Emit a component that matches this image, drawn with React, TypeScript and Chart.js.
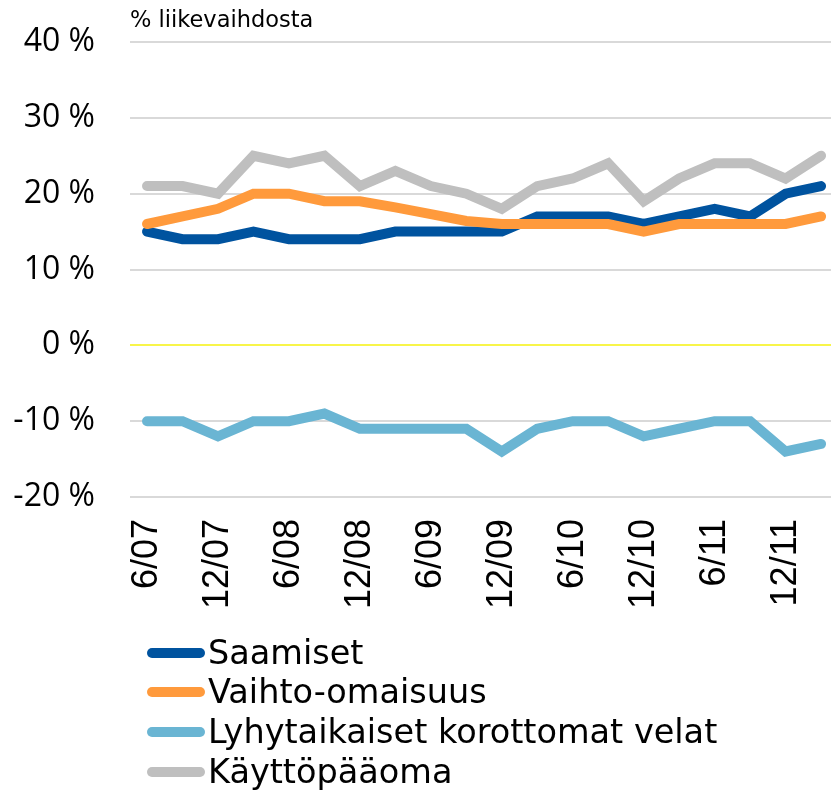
import React, { useEffect, useRef } from "react";
import { Chart, registerables } from "chart.js";

Chart.register(...registerables);

const categories = [
  "6/07", "9/07", "12/07", "3/08", "6/08", "9/08", "12/08", "3/09", "6/09", "9/09",
  "12/09", "3/10", "6/10", "9/10", "12/10", "3/11", "6/11", "9/11", "12/11", "3/12",
];

const saamiset = [15, 14, 14, 15, 14, 14, 14, 15, 15, 15, 15, 17, 17, 17, 16, 17, 18, 17, 20, 21];
const vaihtoOmaisuus = [16, 17, 18, 20, 20, 19, 19, 18.2, 17.3, 16.4, 16, 16, 16, 16, 15, 16, 16, 16, 16, 17];
const lyhytaikaiset = [-10, -10, -12, -10, -10, -9, -11, -11, -11, -11, -14, -11, -10, -10, -12, -11, -10, -10, -14, -13];
const kayttopaaoma = [21, 21, 20, 25, 24, 25, 21, 23, 21, 20, 18, 21, 22, 24, 19, 22, 24, 24, 22, 25];

const yTicks = [-20, -10, 0, 10, 20, 30, 40];
const seriesNames = ["Saamiset", "Vaihto-omaisuus", "Lyhytaikaiset korottomat velat", "Käyttöpääoma"];
const seriesColors = ["#00539f", "#ff9a3c", "#6ab5d3", "#bfbfbf"];
const title = "% liikevaihdosta";

const W = 831;
const H = 792;

export default function App() {
  const ref = useRef<HTMLCanvasElement | null>(null);

  useEffect(() => {
    document.body.style.margin = "0";
    const canvas = ref.current;
    if (!canvas) return;
    const allSeries = [saamiset, vaihtoOmaisuus, lyhytaikaiset, kayttopaaoma];
    const chart = new Chart(canvas, {
      type: "line",
      data: {
        datasets: allSeries.map((s, k) => ({
          label: seriesNames[k],
          data: s.map((v, i) => ({ x: i, y: v })),
          borderColor: seriesColors[k],
          backgroundColor: seriesColors[k],
          borderWidth: 10,
          pointRadius: 0,
          pointHoverRadius: 0,
          borderCapStyle: "round" as const,
          borderJoinStyle: "miter" as const,
          tension: 0,
          fill: false,
          order: 4 - k,
        })),
      },
      options: {
        animation: false,
        responsive: false,
        devicePixelRatio: 1,
        layout: { padding: { top: 42, bottom: 165, left: 0, right: 0 } },
        plugins: {
          legend: { display: false },
          tooltip: { enabled: false },
          title: { display: false },
        },
        scales: {
          x: {
            type: "linear",
            min: -0.48,
            max: categories.length - 1 + 0.28,
            grid: { display: false, drawTicks: false },
            border: { display: false },
            afterBuildTicks: (axis: any) => {
              axis.ticks = categories
                .map((_, i) => i)
                .filter((i) => i % 2 === 0)
                .map((i) => ({ value: i }));
            },
            afterFit: (axis: any) => {
              axis.height = 130;
              axis.paddingLeft = 0;
              axis.paddingRight = 0;
            },
            ticks: {
              autoSkip: false,
              minRotation: 90,
              maxRotation: 90,
              padding: 22,
              color: "#000",
              font: { family: "'Liberation Sans', Arial, sans-serif", size: 36 },
              callback: (v: any) => categories[Math.round(Number(v))] ?? "",
            },
          },
          y: {
            type: "linear",
            min: yTicks[0],
            max: yTicks[yTicks.length - 1],
            afterBuildTicks: (axis: any) => {
              axis.ticks = yTicks.map((v) => ({ value: v }));
            },
            afterFit: (axis: any) => {
              axis.width = 130;
              axis.paddingTop = 0;
              axis.paddingBottom = 0;
            },
            grid: {
              drawTicks: false,
              lineWidth: 2,
              color: (ctx: any) => (ctx.tick && ctx.tick.value === 0 ? "#f8f54a" : "#d9d9d9"),
            },
            border: { display: false },
            ticks: {
              padding: 35,
              color: "#000",
              font: { family: "'Open Sans', sans-serif", size: 32 },
              callback: (v: any) => `${v} %`,
            },
          },
        },
      },
    });
    return () => chart.destroy();
  }, []);

  const rowY = [653, 692, 732, 772];

  return (
    <div style={{ position: "absolute", left: 0, top: 0, width: W, height: H, background: "#fff", overflow: "hidden" }}>
      <canvas ref={ref} width={W} height={H} style={{ position: "absolute", left: 0, top: 0, width: W, height: H }} />
      <div
        style={{
          position: "absolute",
          left: 130,
          top: 5,
          fontFamily: "'DejaVu Sans', sans-serif",
          fontSize: 22.5,
          lineHeight: "28px",
          color: "#000",
          whiteSpace: "nowrap",
        }}
      >
        {title}
      </div>
      {seriesNames.map((name, k) => (
        <React.Fragment key={name}>
          <div
            style={{
              position: "absolute",
              left: 147,
              top: rowY[k] - 5,
              width: 58,
              height: 10,
              borderRadius: 5,
              background: seriesColors[k],
            }}
          />
          <div
            style={{
              position: "absolute",
              left: 208,
              top: rowY[k] - 20,
              fontFamily: "'DejaVu Sans', sans-serif",
              fontSize: 33.5,
              lineHeight: "40px",
              color: "#000",
              whiteSpace: "nowrap",
            }}
          >
            {name}
          </div>
        </React.Fragment>
      ))}
    </div>
  );
}
